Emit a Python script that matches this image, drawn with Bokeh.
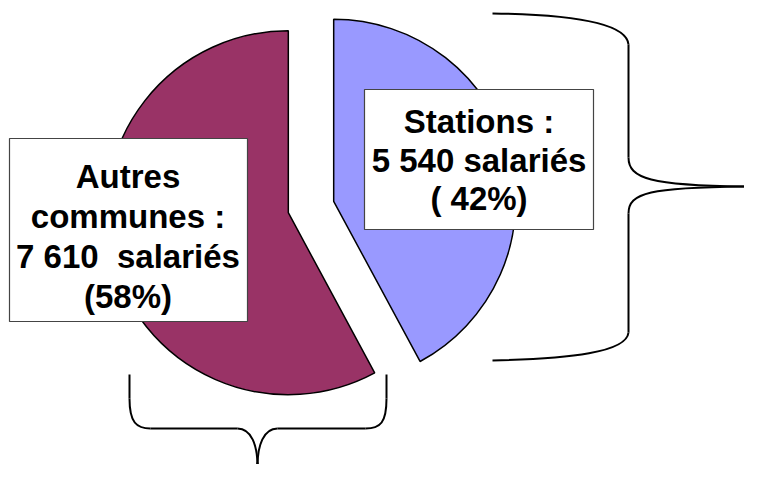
import math
from bokeh.plotting import figure
from bokeh.models import Range1d
from bokeh.core.properties import value
from bokeh.embed import file_html
from bokeh.resources import INLINE

# ---- data ----
categories = ["Stations", "Autres communes"]
salaries = [5540, 7610]
colors = ["#9999FF", "#993366"]
label_lines_stations = ["Stations :", "5 540 salariés", "( 42%)"]
label_lines_autres = ["Autres", "communes :", "7 610\u00a0\u00a0salariés", "(58%)"]

# ---- layout (pixel-like coordinates, y measured downward then flipped) ----
H = 480
def fy(py):
    return H - py

p = figure(width=744, height=464, output_backend="svg", toolbar_location=None,
           x_range=Range1d(0, 744), y_range=Range1d(16, 480), min_border=0,
           background_fill_color="white", border_fill_color="white")
p.axis.visible = False
p.grid.visible = False
p.outline_line_color = None

# pie
base_cx, base_cy = 310.5, fy(206.5)
radius = 182
explode = 23.4
total = sum(salaries)
start = 90.0
for cat, val, col in zip(categories, salaries, colors):
    sweep = 360.0 * val / total
    a_end = start
    a_start = start - sweep
    mid = math.radians((a_start + a_end) / 2)
    cx = base_cx + explode * math.cos(mid)
    cy = base_cy + explode * math.sin(mid)
    p.wedge(x=cx, y=cy, radius=radius, start_angle=a_start, end_angle=a_end,
            start_angle_units="deg", end_angle_units="deg", direction="anticlock",
            fill_color=col, line_color="black", line_width=1.5)
    start = a_start

# label boxes
boxes = [(364, 593, 89, 229), (9, 247, 138, 321)]
for (l, r, t, b) in boxes:
    p.quad(left=l, right=r, top=fy(t), bottom=fy(b), fill_color="white",
           line_color="#444444", line_width=1.2)

def draw_lines(lines, cx, y0, dy):
    p.text(x=[cx] * len(lines), y=[fy(y0 + i * dy) for i in range(len(lines))],
           text=lines, text_font=value("Liberation Sans"), text_font_style="bold",
           text_font_size="33px", text_align="center", text_baseline="middle",
           text_color="black")

draw_lines(label_lines_stations, 478.5, 121, 38.5)
draw_lines(label_lines_autres, 127.5, 176, 40)

# braces
def bez(x0, y0, c0x, c0y, c1x, c1y, x1, y1):
    p.bezier(x0=x0, y0=fy(y0), x1=x1, y1=fy(y1), cx0=c0x, cy0=fy(c0y),
             cx1=c1x, cy1=fy(c1y), line_color="black", line_width=2)

def seg(x0, y0, x1, y1):
    p.line([x0, x1], [fy(y0), fy(y1)], line_color="black", line_width=2)

# right brace
bez(492, 13, 570, 14, 626, 22, 628, 44)
seg(628, 44, 628, 157)
bez(628, 157, 628, 178, 650, 185, 744, 186)
bez(744, 186, 650, 187, 628, 192, 628, 213)
seg(628, 213, 628, 332)
bez(628, 332, 626, 352, 570, 358, 492, 360)

# bottom brace
seg(129, 374, 129, 398)
bez(129, 398, 129, 422, 136, 428, 150, 428)
seg(150, 428, 237, 428)
bez(237, 428, 251, 428, 257, 445, 257, 466)
seg(257, 462, 257, 480)
bez(257, 466, 257, 445, 263, 428, 277, 428)
seg(277, 428, 365, 428)
bez(365, 428, 380, 428, 386, 422, 386, 398)
seg(386, 398, 386, 374)

open("out.html", "w").write(file_html(p, INLINE))
